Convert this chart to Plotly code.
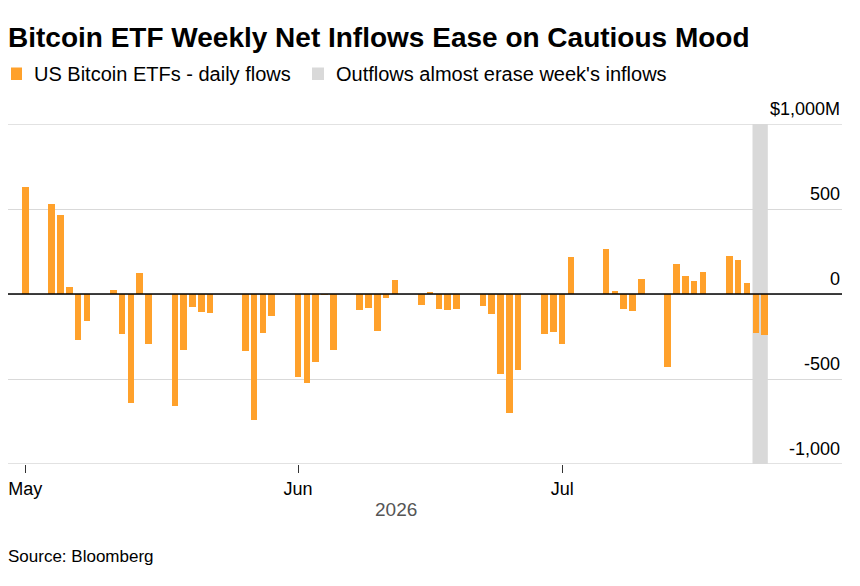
import pandas as pd
import plotly.graph_objects as go

# ---- data (US Bitcoin ETF daily net flows, $M) ----
dates = [
    "2026-05-01", "2026-05-04", "2026-05-05", "2026-05-06", "2026-05-07", "2026-05-08",
    "2026-05-11", "2026-05-12", "2026-05-13", "2026-05-14", "2026-05-15",
    "2026-05-18", "2026-05-19", "2026-05-20", "2026-05-21", "2026-05-22",
    "2026-05-26", "2026-05-27", "2026-05-28", "2026-05-29",
    "2026-06-01", "2026-06-02", "2026-06-03", "2026-06-04", "2026-06-05",
    "2026-06-08", "2026-06-09", "2026-06-10", "2026-06-11", "2026-06-12",
    "2026-06-15", "2026-06-16", "2026-06-17", "2026-06-18", "2026-06-19",
    "2026-06-22", "2026-06-23", "2026-06-24", "2026-06-25", "2026-06-26",
    "2026-06-29", "2026-06-30", "2026-07-01", "2026-07-02",
    "2026-07-06", "2026-07-07", "2026-07-08", "2026-07-09", "2026-07-10",
    "2026-07-13", "2026-07-14", "2026-07-15", "2026-07-16", "2026-07-17",
    "2026-07-20", "2026-07-21", "2026-07-22", "2026-07-23", "2026-07-24",
]
flows = [
    627, 529, 465, 43, -271, -157,
    24, -235, -639, 124, -294,
    -657, -331, -74, -104, -110,
    -337, -739, -231, -129,
    -488, -523, -400, -5, -329,
    -94, -80, -218, -22, 82,
    -67, 8, -86, -94, -90,
    -71, -116, -472, -700, -447,
    -233, -223, -296, 220,
    263, 18, -88, -98, 86,
    -427, 178, 106, 76, 129,
    223, 200, 67, -227, -243,
]
band_dates = ["2026-07-23", "2026-07-24"]

month_ticks = ["2026-05-01", "2026-06-01", "2026-07-01"]
month_labels = ["May", "Jun", "Jul"]
year_label = "2026"

y_ticks = [-1000, -500, 0, 500, 1000]
y_labels = ["-1,000", "-500", "0", "500", "$1,000M"]

title = "Bitcoin ETF Weekly Net Inflows Ease on Cautious Mood"
legend_labels = ["US Bitcoin ETFs - daily flows", "Outflows almost erase week's inflows"]
source = "Source: Bloomberg"

ORANGE = "#FFA12B"
BAND = "#D9D9D9"
GRID = "#D9D9D9"
FONT = "Liberation Sans, Arial, sans-serif"

# ---- layout geometry (pixels) ----
W, H = 860, 586
PL, PR, PT, PB = 8, 842, 124, 464


def px(x):
    return (x - PL) / (PR - PL)


def py(y):
    return (PB - y) / (PB - PT)


DAY = pd.Timedelta(days=1)
start = pd.Timestamp("2026-05-01")
x_range = [str(start - 1.966 * DAY), str(start + 92.8 * DAY)]
bar_w = 0.74 * 86400000

fig = go.Figure()
fig.add_trace(go.Bar(
    x=pd.to_datetime(dates), y=flows, width=bar_w,
    marker=dict(color=ORANGE, line=dict(width=0)),
    showlegend=False, hoverinfo="x+y",
))

# edge gridlines (plotly omits gridlines that sit on the range edges)
for v in (y_ticks[0], y_ticks[-1]):
    fig.add_shape(type="line", xref="paper", yref="y", x0=0, x1=1, y0=v, y1=v,
                  line=dict(color=GRID, width=1.5), layer="below")

# highlighted band
b0 = pd.Timestamp(band_dates[0]) - 0.37 * DAY
b1 = pd.Timestamp(band_dates[1]) + 0.37 * DAY
fig.add_shape(type="rect", xref="x", yref="y", x0=b0, x1=b1,
              y0=y_ticks[0], y1=y_ticks[-1], fillcolor=BAND,
              line=dict(width=0), layer="below")
# zero line on top of bars
fig.add_shape(type="line", xref="paper", yref="y", x0=0, x1=1, y0=0, y1=0,
              line=dict(color="#000000", width=1.3), layer="above")

annotations = []
# y labels above gridlines on the right
for v, t in zip(y_ticks, y_labels):
    annotations.append(dict(xref="paper", yref="y", x=1, y=v, text=t,
                            xanchor="right", yanchor="bottom", yshift=3,
                            showarrow=False,
                            font=dict(family=FONT, size=18, color="#000000")))
# title
annotations.append(dict(xref="paper", yref="paper", x=px(6), y=py(37), text="<b>" + title + "</b>",
                        xanchor="left", yanchor="middle", showarrow=False,
                        font=dict(family=FONT, size=28, color="#000000")))
# legend
leg_marks = [(11, 22, ORANGE), (312, 324, BAND)]
leg_text_x = [32, 334]
for (x0, x1, c), tx, lab in zip(leg_marks, leg_text_x, legend_labels):
    fig.add_shape(type="rect", xref="paper", yref="paper",
                  x0=px(x0), x1=px(x1), y0=py(80), y1=py(67.5),
                  fillcolor=c, line=dict(width=0), layer="above")
    annotations.append(dict(xref="paper", yref="paper", x=px(tx), y=py(74), text=lab,
                            xanchor="left", yanchor="middle", showarrow=False,
                            font=dict(family=FONT, size=20, color="#000000")))
# year label
annotations.append(dict(xref="paper", yref="paper", x=px(396), y=py(509), text=year_label,
                        xanchor="center", yanchor="middle", showarrow=False,
                        font=dict(family=FONT, size=19, color="#555555")))
# source
annotations.append(dict(xref="paper", yref="paper", x=px(6), y=py(556), text=source,
                        xanchor="left", yanchor="middle", showarrow=False,
                        font=dict(family=FONT, size=17, color="#000000")))

fig.update_layout(
    width=W, height=H,
    margin=dict(l=PL, r=W - PR, t=PT, b=H - PB, pad=0),
    paper_bgcolor="white", plot_bgcolor="white",
    showlegend=False,
    bargap=0,
    annotations=annotations,
    xaxis=dict(
        type="date", range=x_range,
        tickvals=pd.to_datetime(month_ticks), ticktext=month_labels,
        ticks="outside", ticklen=8, tickwidth=1, tickcolor="#333333",
        showgrid=False, zeroline=False, showline=False,
        tickfont=dict(family=FONT, size=18, color="#000000"),
        fixedrange=True,
    ),
    yaxis=dict(
        range=[y_ticks[0], y_ticks[-1]], tickvals=y_ticks,
        showticklabels=False, showgrid=True, gridcolor=GRID, gridwidth=1.2,
        zeroline=False, showline=False, ticks="",
        fixedrange=True,
    ),
)

fig.write_html("out.html", config={"displayModeBar": False})
